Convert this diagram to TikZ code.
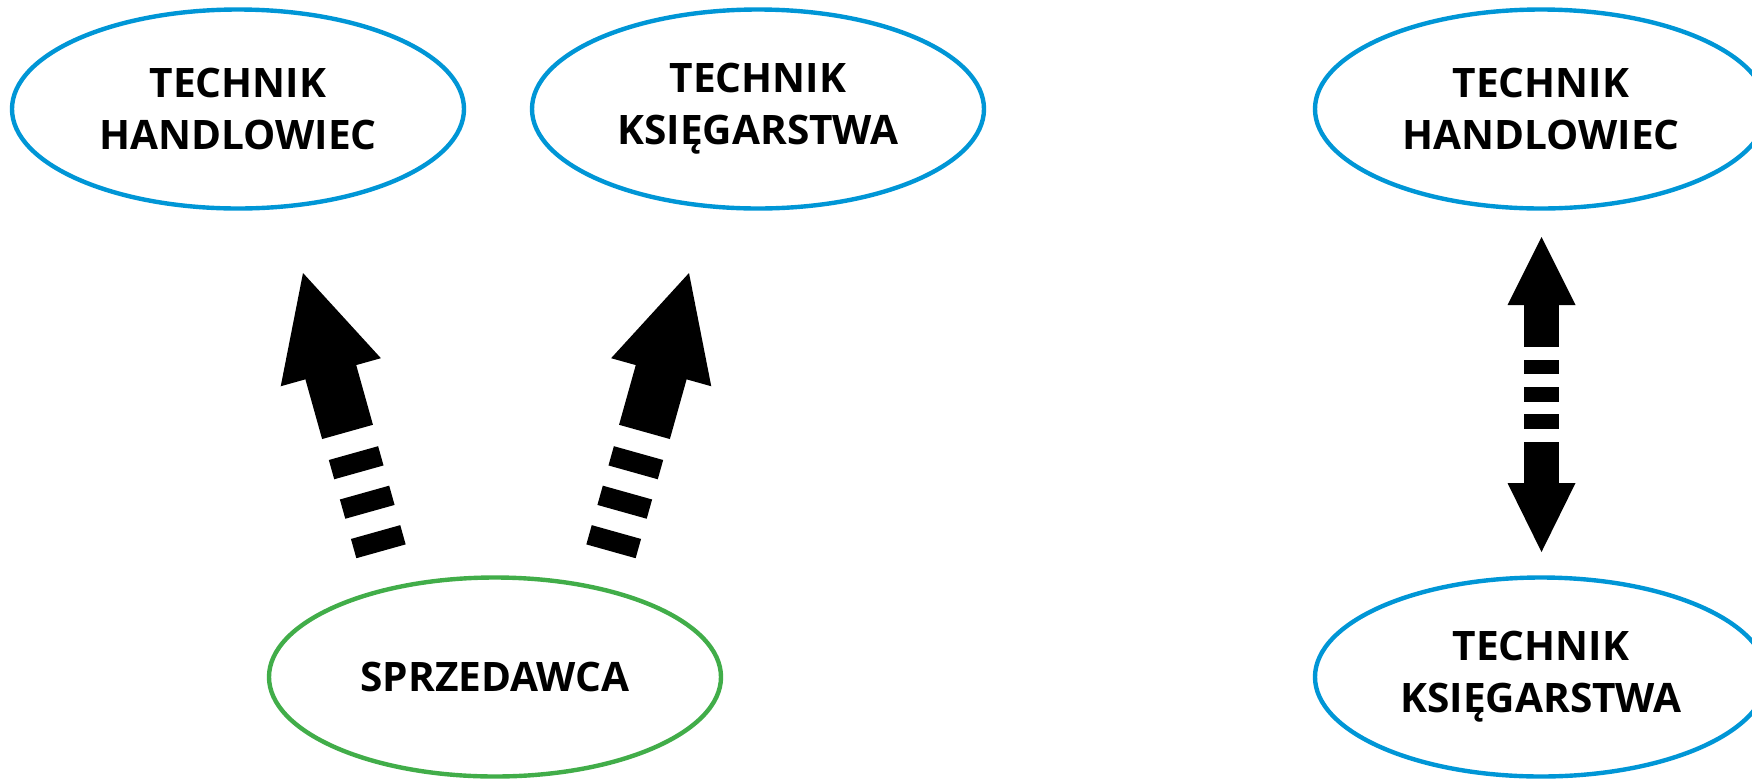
\documentclass[tikz,border=0pt]{standalone}
\usepackage{fontspec}
\setsansfont{Open Sans}
\usetikzlibrary{shapes.geometric,calc}
\definecolor{oblue}{RGB}{0,150,214}
\definecolor{ogreen}{RGB}{65,173,73}
% point at distance #3 from #1 toward #2, then offset #4 at angle #5
\newcommand\apt[5]{($($(#1)!#3!(#2)$)!#4!#5:(#2)$)}
% filled bar along #1->#2 from #3 to #4 with half width #5
\newcommand\barpiece[5]{\fill[arrowfill] \apt{#1}{#2}{#3}{#5}{90} -- \apt{#1}{#2}{#4}{#5}{90} -- \apt{#1}{#2}{#4}{#5}{-90} -- \apt{#1}{#2}{#3}{#5}{-90} -- cycle;}
% triangular head, apex at #2, base at distance #3 from #1, half width #4
\newcommand\headpiece[4]{\fill[arrowfill] \apt{#1}{#2}{#3}{#4}{90} -- (#2) -- \apt{#1}{#2}{#3}{#4}{-90} -- cycle;}
\newcommand\tiltarrow[2]{%
  \barpiece{#1}{#2}{0pt}{10pt}{12.8pt}
  \barpiece{#1}{#2}{20.5pt}{30.5pt}{12.8pt}
  \barpiece{#1}{#2}{41pt}{51pt}{12.8pt}
  \barpiece{#1}{#2}{62pt}{93.5pt}{13.2pt}
  \headpiece{#1}{#2}{93pt}{26pt}}
\tikzset{
  arrowfill/.style={fill=black},
  oval/.style={ellipse, draw=#1, line width=2.2pt, minimum width=226pt,
    minimum height=99.5pt, inner sep=0pt, align=center,
    font=\sffamily\bfseries\fontsize{20.3pt}{26pt}\selectfont},
}
\begin{document}
\begin{tikzpicture}[x=0.5pt,y=-0.5pt]
\clip (0,0) rectangle (1752,778);
\fill[white] (0,0) rectangle (1752,778);
\node[oval=oblue] (th1) at (238,109) {TECHNIK\\HANDLOWIEC};
\node[oval=oblue] (tk1) at (758,109) {TECHNIK\\KSIĘGARSTWA};
\node[oval=ogreen] (sp) at (495,677) {SPRZEDAWCA};
\node[oval=oblue] (th2) at (1541,109) {TECHNIK\\HANDLOWIEC};
\node[oval=oblue] (tk2) at (1541,677) {TECHNIK\\KSIĘGARSTWA};
% tilted arrows from SPRZEDAWCA
\coordinate (a1b) at (381,551.3);
\coordinate (a1t) at (303,273);
\coordinate (a2b) at (611,551.3);
\coordinate (a2t) at (689,273);
\tiltarrow{a1b}{a1t}
\tiltarrow{a2b}{a2t}
% vertical double arrow
\coordinate (dt) at (1541.5,237);
\coordinate (db) at (1541.5,552);
\barpiece{dt}{db}{33.5pt}{55pt}{8.75pt}
\barpiece{dt}{db}{61.5pt}{68.5pt}{8.75pt}
\barpiece{dt}{db}{75pt}{82.5pt}{8.75pt}
\barpiece{dt}{db}{88.5pt}{96pt}{8.75pt}
\barpiece{dt}{db}{102.5pt}{123.5pt}{8.75pt}
\headpiece{db}{dt}{123.5pt}{17pt}
\headpiece{dt}{db}{123pt}{17pt}
\end{tikzpicture}
\end{document}
